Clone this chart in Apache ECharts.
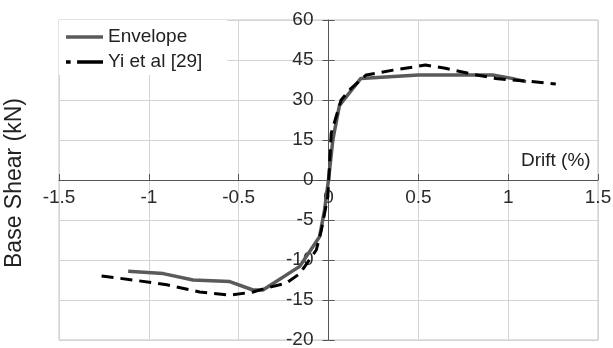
<!DOCTYPE html>
<html><head><meta charset="utf-8">
<script src="https://cdn.jsdelivr.net/npm/echarts@6/dist/echarts.min.js"></script>
<style>html,body{margin:0;padding:0;background:#fff}#c{width:613px;height:348px}</style>
</head><body><div id="c"></div>
<script>
// Drift (%) and base shear (kN)
const envDrift = [-1.115, -0.92, -0.754, -0.55, -0.42, -0.365, -0.16, -0.05, -0.022, 0, 0.024, 0.061, 0.18, 0.5, 0.913, 1.02, 1.1];
const envShear = [-11.4, -11.7, -12.5, -12.7, -13.75, -13.75, -10.8, -7.1, -3.75, 0, 15, 28, 38.1, 39.4, 39.4, 38.1, 36.9];
const yiDrift = [-1.263, -1.087, -0.9, -0.717, -0.55, -0.42, -0.346, -0.235, -0.16, -0.068, -0.04, -0.004, 0.015, 0.07, 0.126, 0.21, 0.36, 0.54, 0.65, 0.8, 0.93, 1.02, 1.13, 1.265];
const yiShear = [-12, -12.5, -13.1, -14, -14.4, -14, -13.5, -12.9, -11.7, -8.75, -6.3, -2.1, 17.5, 30, 34.4, 39.4, 41.2, 43.1, 41.9, 39.7, 38.1, 37.5, 36.9, 36];
const xTicks = [-1.5, -1, -0.5, 0, 0.5, 1, 1.5];
const yTickLabels = [60, 45, 30, 15, 0, -5, -10, -15, -20];
// Negative shear uses a stretched scale (3x) in the original figure
const NEG = 3;
const toPlot = v => v < 0 ? v * NEG : v;
const fromPlot = v => v < 0 ? v / NEG : v;
const pts = (xs, ys) => xs.map((x, i) => [x, toPlot(ys[i])]);

const W = 613, H = 348, L = 59, R = 15, T = 20, B = 8;
const plotW = W - L - R, plotH = H - T - B;
// place axes through the origin (x=0, y=0)
const yAxisOffset = -plotW * (0 - (-1.5)) / 3;
const xAxisOffset = -plotH * (0 - (-60)) / 120;

const chart = echarts.init(document.getElementById('c'));
const font = 'Liberation Sans, Arial, sans-serif';
const yBase = {
  type: 'value', min: -60, max: 60, interval: 15, position: 'left', offset: yAxisOffset
};
chart.setOption({
  animation: false,
  grid: { left: L, right: R, top: T, bottom: B, show: true, borderColor: '#c4c4c4', borderWidth: 1,
          containLabel: false, outerBoundsMode: 'none' },
  xAxis: {
    type: 'value', min: -1.5, max: 1.5, interval: 0.5, position: 'bottom', offset: xAxisOffset,
    axisLine: { onZero: false, lineStyle: { color: '#555', width: 1 } },
    axisTick: { show: true, inside: true, length: 6, lineStyle: { color: '#555' } },
    axisLabel: { color: '#2a2a2a', fontSize: 19, fontFamily: font, margin: 8,
      formatter: v => xTicks.includes(v) ? String(v) : '' },
    splitLine: { show: true, lineStyle: { color: '#d4d4d4', width: 1 } }
  },
  yAxis: [
    Object.assign({}, yBase, {
      axisLine: { onZero: false, lineStyle: { color: '#555', width: 1 } },
      axisTick: { show: true, length: 6, lineStyle: { color: '#555' } },
      axisLabel: { color: '#2a2a2a', fontSize: 19, fontFamily: font, margin: 15,
        formatter: v => { const r = fromPlot(v); return yTickLabels.includes(r) ? String(r) : ''; } },
      splitLine: { show: true, lineStyle: { color: '#d4d4d4', width: 1 } }
    }),
    Object.assign({}, yBase, {
      axisLine: { show: false, onZero: false },
      axisTick: { show: true, inside: true, length: 6, lineStyle: { color: '#555' } },
      axisLabel: { show: false },
      splitLine: { show: false }
    })
  ],
  legend: {
    left: L, top: T, orient: 'vertical', backgroundColor: '#fff',
    padding: [7, 25, 3, 7], itemWidth: 37, itemHeight: 5, itemGap: 5,
    textStyle: { fontSize: 19, lineHeight: 20, fontFamily: font, color: '#222' },
    data: [
      { name: 'Envelope', icon: 'path://M0,0H40V4H0Z', itemStyle: { color: '#5a5a5a' } },
      { name: 'Yi et al [29]', icon: 'path://M0,0H5V4H0Z M12,0H40V4H12Z', itemStyle: { color: '#000' } }
    ]
  },
  series: [
    { name: 'Envelope', type: 'line', data: pts(envDrift, envShear), symbol: 'none',
      lineStyle: { color: '#5a5a5a', width: 3.5 }, itemStyle: { color: '#5a5a5a' }, z: 3 },
    { name: 'Yi et al [29]', type: 'line', data: pts(yiDrift, yiShear), symbol: 'none',
      lineStyle: { color: '#000', width: 3, type: [12, 7] }, itemStyle: { color: '#000' }, z: 4 }
  ],
  graphic: [
    { type: 'text', left: 521, top: 151, style: { text: 'Drift (%)', font: '19px ' + font, fill: '#222' } },
    { type: 'text', x: 15, y: 183, rotation: Math.PI / 2,
      style: { text: 'Base Shear (kN)', font: '23px ' + font, fill: '#222', align: 'center', verticalAlign: 'middle' } }
  ]
});
</script></body></html>
